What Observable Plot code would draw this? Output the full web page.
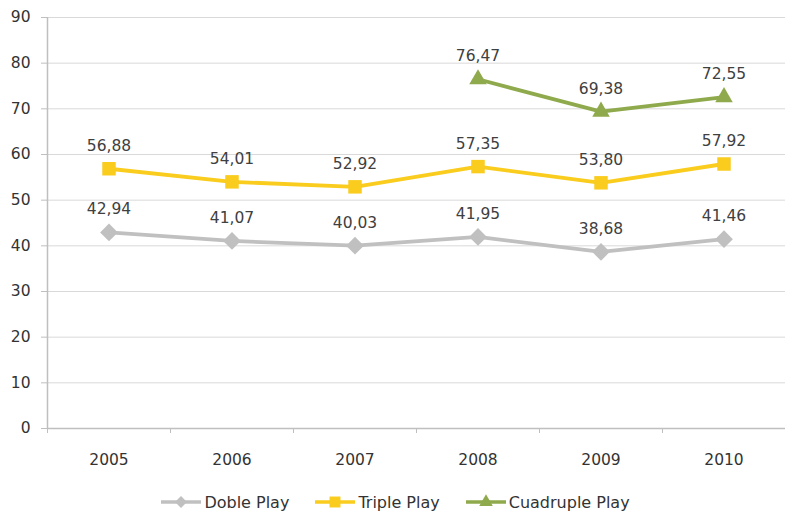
<!DOCTYPE html>
<html>
<head>
<meta charset="utf-8">
<script src="https://cdn.jsdelivr.net/npm/d3@7"></script>
<script src="https://cdn.jsdelivr.net/npm/@observablehq/plot@0.6"></script>
<style>
  html, body { margin: 0; padding: 0; background: #fff; }
  body { width: 785px; height: 515px; overflow: hidden; font-family: "DejaVu Sans", Verdana, sans-serif; }
  #legend { display: flex; justify-content: center; gap: 26px; font-size: 16px; color: #333; height: 24px; align-items: center; margin-top: 5px; margin-left: 6px; }
  #legend .item { display: flex; align-items: center; gap: 3px; }
</style>
</head>
<body>
<div id="chart"></div>
<div id="legend"></div>
<script>
const years = [2005, 2006, 2007, 2008, 2009, 2010];
const doblePlay = [42.94, 41.07, 40.03, 41.95, 38.68, 41.46];
const triplePlay = [56.88, 54.01, 52.92, 57.35, 53.80, 57.92];
const cuadrupleYears = [2008, 2009, 2010];
const cuadruplePlay = [76.47, 69.38, 72.55];
const yTicks = [0, 10, 20, 30, 40, 50, 60, 70, 80, 90];
const seriesNames = ["Doble Play", "Triple Play", "Cuadruple Play"];
const seriesColors = ["#c0c0c0", "#f9cc1e", "#8faa4c"];
const seriesSymbols = ["diamond2", "square", "triangle"];
const seriesR = [8, 7.6, 6.5];

const rows = [];
years.forEach((y, i) => rows.push({series: seriesNames[0], year: y, value: doblePlay[i]}));
years.forEach((y, i) => rows.push({series: seriesNames[1], year: y, value: triplePlay[i]}));
cuadrupleYears.forEach((y, i) => rows.push({series: seriesNames[2], year: y, value: cuadruplePlay[i]}));

const boundaries = years.map(y => y - 0.5).concat([years[years.length - 1] + 0.5]);
const fmt = v => v.toFixed(2).replace(".", ",");

const marks = [
  Plot.gridY(yTicks.slice(1), {stroke: "#d9d9d9", strokeOpacity: 1, strokeWidth: 1}),
  Plot.axisY(yTicks, {tickSize: 6, tickPadding: 11, stroke: "#bfbfbf", fill: "#333", fontSize: 15.5, label: null, tickFormat: d => String(d)}),
  Plot.ruleX([boundaries[0]], {stroke: "#bfbfbf", strokeWidth: 1.5}),
  Plot.ruleY([0], {stroke: "#bfbfbf", strokeWidth: 1.5}),
  Plot.axisX(boundaries, {tickSize: 5, stroke: "#bfbfbf", tickFormat: () => "", label: null}),
  Plot.axisX(years, {tickSize: 0, tickPadding: 25, fill: "#333", fontSize: 15.5, tickFormat: d => String(d), label: null})
];
seriesNames.forEach((name, k) => {
  const d = rows.filter(r => r.series === name);
  marks.push(Plot.line(d, {x: "year", y: "value", stroke: seriesColors[k], strokeWidth: 3.8}));
  marks.push(Plot.dot(d, {x: "year", y: "value", symbol: seriesSymbols[k], r: seriesR[k], fill: seriesColors[k], stroke: "none"}));
  marks.push(Plot.text(d, {x: "year", y: "value", text: r => fmt(r.value), dy: -23, fill: "#404040", fontSize: 15.5}));
});

const chart = Plot.plot({
  width: 785,
  height: 485,
  marginLeft: 47,
  marginRight: 0,
  marginTop: 17,
  marginBottom: 57,
  style: {fontFamily: "'DejaVu Sans', Verdana, sans-serif", background: "#fff"},
  x: {domain: [boundaries[0], boundaries[boundaries.length - 1]], axis: null},
  y: {domain: [0, 90], axis: null},
  marks
});
document.getElementById("chart").appendChild(chart);

const legend = document.getElementById("legend");
seriesNames.forEach((name, k) => {
  const item = document.createElement("div");
  item.className = "item";
  const sw = d3.create("svg").attr("width", 40).attr("height", 16);
  sw.append("line").attr("x1", 0).attr("x2", 40).attr("y1", 8).attr("y2", 8).attr("stroke", seriesColors[k]).attr("stroke-width", 3.5);
  sw.append("path").attr("transform", "translate(20,8)").attr("fill", seriesColors[k])
    .attr("d", d3.symbol(k === 0 ? d3.symbolDiamond2 : k === 1 ? d3.symbolSquare : d3.symbolTriangle, k === 0 ? 90 : k === 1 ? 120 : 80)());
  item.appendChild(sw.node());
  const t = document.createElement("span");
  t.textContent = name;
  item.appendChild(t);
  legend.appendChild(item);
});
</script>
</body>
</html>
